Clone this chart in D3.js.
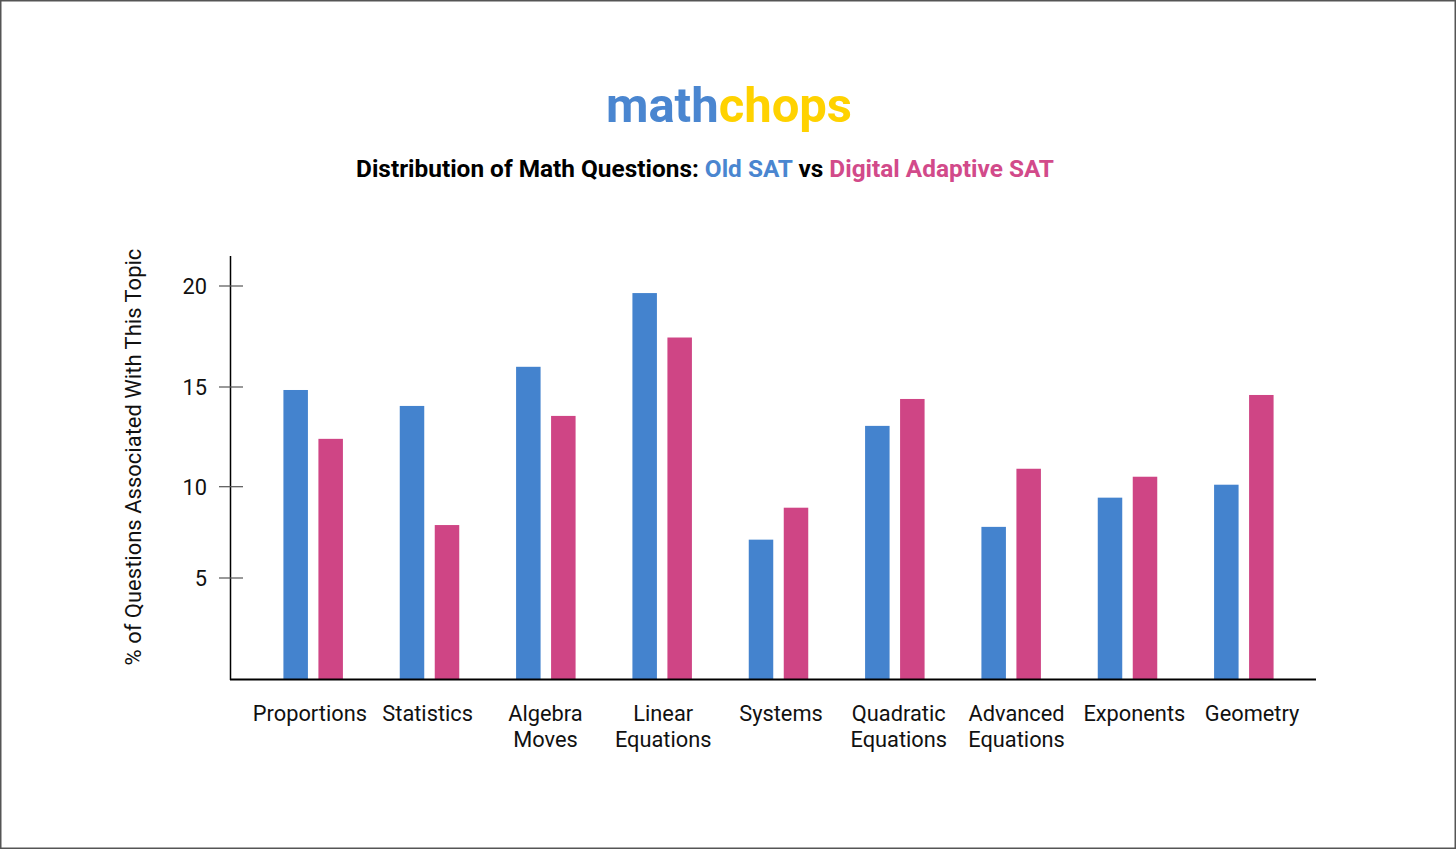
<!DOCTYPE html>
<html>
<head>
<meta charset="utf-8">
<script src="https://cdn.jsdelivr.net/npm/d3@7"></script>
<style>
  html, body { margin: 0; padding: 0; background: #fff; }
  svg { display: block; font-family: Roboto, "Noto Sans", sans-serif; }
</style>
</head>
<body>
<svg id="chart" width="1456" height="849"></svg>
<script>
const categories = [
  ["Proportions"], ["Statistics"], ["Algebra", "Moves"], ["Linear", "Equations"],
  ["Systems"], ["Quadratic", "Equations"], ["Advanced", "Equations"], ["Exponents"], ["Geometry"]
];
const seriesNames = ["Old SAT", "Digital Adaptive SAT"];
const oldSAT = [14.85, 14.05, 16.0, 19.65, 7.1, 13.05, 7.8, 9.4, 10.1];
const digitalSAT = [12.4, 7.9, 13.55, 17.45, 8.85, 14.4, 10.9, 10.5, 14.6];
const yTicks = [5, 10, 15, 20];
const yLabel = "% of Questions Associated With This Topic";
const colors = ["#4483CE", "#CF4585"];

const svg = d3.select("#chart");
const W = 1456, H = 849;

// frame
svg.append("rect").attr("x", 0.75).attr("y", 0.75).attr("width", W - 1.5).attr("height", H - 1.5)
  .attr("fill", "#fff").attr("stroke", "#555").attr("stroke-width", 1.5);

// logo
const logo = svg.append("text").attr("x", 729).attr("y", 122).attr("text-anchor", "middle")
  .attr("font-size", 49).attr("font-weight", 700);
logo.append("tspan").attr("fill", "#4A86D0").text("math");
logo.append("tspan").attr("fill", "#FFD200").text("chops");

// title
const title = svg.append("text").attr("x", 705).attr("y", 177).attr("text-anchor", "middle")
  .attr("font-size", 24.4).attr("font-weight", 700);
title.append("tspan").attr("fill", "#000").text("Distribution of Math Questions: ");
title.append("tspan").attr("fill", "#4A86D0").text("Old SAT");
title.append("tspan").attr("fill", "#000").text(" vs ");
title.append("tspan").attr("fill", "#D24A8A").text("Digital Adaptive SAT");

// scales (tick positions in the reference are not evenly spaced)
const y = d3.scaleLinear().domain([0, 5, 10, 15, 20]).range([679, 578, 486.7, 387, 286]);
const catKeys = categories.map(c => c.join(" "));
const x0 = d3.scaleBand().domain(catKeys).range([255, 1302]).paddingInner(0).paddingOuter(0);
const xLab = d3.scaleBand().domain(catKeys).range([251, 1311]).paddingInner(0).paddingOuter(0);
const pairW = 59.5;
const x1 = d3.scaleBand().domain(seriesNames).range([0, pairW]).paddingInner(0.3).paddingOuter(0);

// bars
const data = [];
catKeys.forEach((k, i) => {
  data.push({ cat: k, s: seriesNames[0], v: oldSAT[i], c: colors[0] });
  data.push({ cat: k, s: seriesNames[1], v: digitalSAT[i], c: colors[1] });
});
svg.append("g").selectAll("rect").data(data).join("rect")
  .attr("x", d => x0(d.cat) + x0.bandwidth() / 2 - pairW / 2 + x1(d.s))
  .attr("y", d => y(d.v))
  .attr("width", x1.bandwidth())
  .attr("height", d => y(0) - y(d.v))
  .attr("fill", d => d.c);

// y axis line
svg.append("line").attr("x1", 230.5).attr("x2", 230.5).attr("y1", 256).attr("y2", 680)
  .attr("stroke", "#000").attr("stroke-width", 1.5);
// x axis line
svg.append("line").attr("x1", 230).attr("x2", 1316).attr("y1", 679.5).attr("y2", 679.5)
  .attr("stroke", "#000").attr("stroke-width", 2);

// y ticks
const tg = svg.append("g").selectAll("g").data(yTicks).join("g")
  .attr("transform", d => `translate(0,${y(d)})`);
tg.append("line").attr("x1", 219).attr("x2", 243).attr("stroke", "#555").attr("stroke-width", 1.2);
tg.append("text").attr("x", 207).attr("dy", "0.36em").attr("text-anchor", "end")
  .attr("font-size", 21.8).attr("fill", "#111").text(d => d);

// y label
svg.append("text").attr("transform", "translate(141,457) rotate(-90)").attr("text-anchor", "middle")
  .attr("font-size", 22).attr("fill", "#111").text(yLabel);

// x labels
const xl = svg.append("g").selectAll("text").data(categories).join("text")
  .attr("x", (d, i) => xLab(catKeys[i]) + xLab.bandwidth() / 2)
  .attr("y", 721).attr("text-anchor", "middle").attr("font-size", 21.8).attr("fill", "#111");
xl.each(function(d) {
  const t = d3.select(this);
  d.forEach((line, j) => {
    t.append("tspan").attr("x", t.attr("x")).attr("dy", j === 0 ? 0 : 26).text(line);
  });
});
</script>
</body>
</html>
